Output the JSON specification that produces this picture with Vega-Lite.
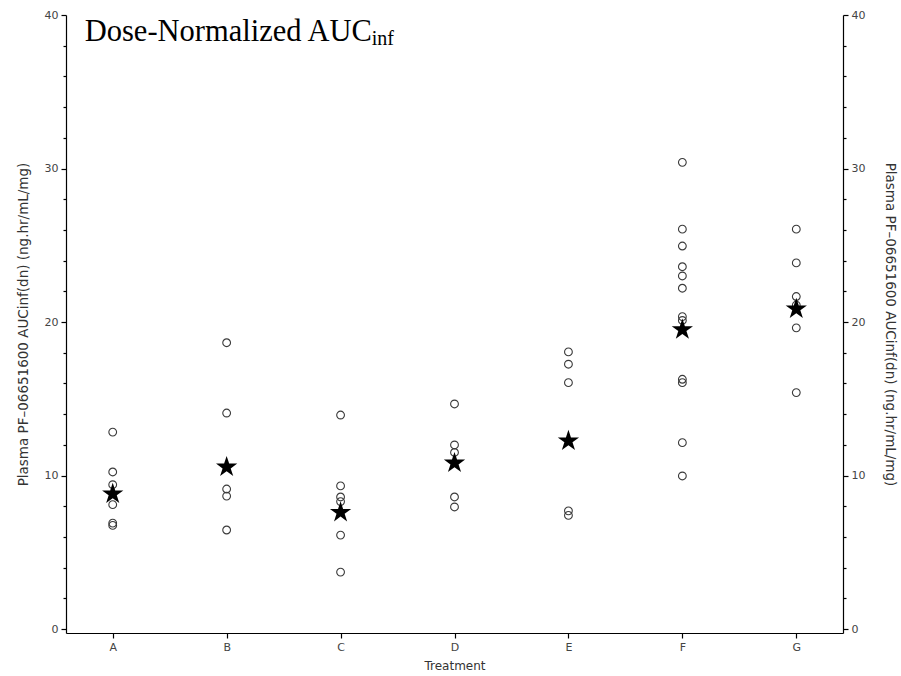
{
  "$schema": "https://vega.github.io/schema/vega-lite/v6.json",
  "width": 777,
  "height": 618,
  "autosize": {"type": "none"},
  "padding": {"left": 66, "top": 15, "right": 58, "bottom": 43},
  "background": "white",
  "config": {
    "view": {"stroke": null},
    "axis": {
      "grid": false,
      "domainColor": "#000000",
      "domainWidth": 1.2,
      "tickColor": "#000000",
      "tickWidth": 1.2,
      "labelFont": "DejaVu Sans",
      "labelFontSize": 11,
      "labelColor": "#444444",
      "titleFont": "DejaVu Sans",
      "titleFontSize": 13.5,
      "titleFontWeight": "normal",
      "titleColor": "#333333"
    }
  },
  "layer": [
    {
      "data": {"values": [
        {"Treatment": "A", "value": 12.83}, {"Treatment": "A", "value": 10.23}, {"Treatment": "A", "value": 9.4},
        {"Treatment": "A", "value": 8.1}, {"Treatment": "A", "value": 6.9}, {"Treatment": "A", "value": 6.75},
        {"Treatment": "B", "value": 18.65}, {"Treatment": "B", "value": 14.07}, {"Treatment": "B", "value": 9.12},
        {"Treatment": "B", "value": 8.66}, {"Treatment": "B", "value": 6.45},
        {"Treatment": "C", "value": 13.94}, {"Treatment": "C", "value": 9.32}, {"Treatment": "C", "value": 8.6},
        {"Treatment": "C", "value": 8.3}, {"Treatment": "C", "value": 6.12}, {"Treatment": "C", "value": 3.71},
        {"Treatment": "D", "value": 14.66}, {"Treatment": "D", "value": 11.99}, {"Treatment": "D", "value": 11.5},
        {"Treatment": "D", "value": 8.6}, {"Treatment": "D", "value": 7.95},
        {"Treatment": "E", "value": 18.05}, {"Treatment": "E", "value": 17.25}, {"Treatment": "E", "value": 16.05},
        {"Treatment": "E", "value": 7.7}, {"Treatment": "E", "value": 7.4},
        {"Treatment": "F", "value": 30.4}, {"Treatment": "F", "value": 26.05}, {"Treatment": "F", "value": 24.95},
        {"Treatment": "F", "value": 23.6}, {"Treatment": "F", "value": 23.0}, {"Treatment": "F", "value": 22.2},
        {"Treatment": "F", "value": 20.35}, {"Treatment": "F", "value": 20.1}, {"Treatment": "F", "value": 16.27},
        {"Treatment": "F", "value": 16.05}, {"Treatment": "F", "value": 12.14}, {"Treatment": "F", "value": 9.97},
        {"Treatment": "G", "value": 26.05}, {"Treatment": "G", "value": 23.85}, {"Treatment": "G", "value": 21.66},
        {"Treatment": "G", "value": 21.1}, {"Treatment": "G", "value": 19.62}, {"Treatment": "G", "value": 15.4}
      ]},
      "mark": {"type": "point", "shape": "circle", "filled": false, "stroke": "#3a3a3a", "strokeWidth": 1.1, "size": 60, "opacity": 1},
      "encoding": {
        "x": {
          "field": "Treatment", "type": "nominal",
          "scale": {"type": "point", "domain": ["A", "B", "C", "D", "E", "F", "G"], "padding": 0.41},
          "axis": {"orient": "bottom", "title": "Treatment", "titleFontSize": 12, "labelAngle": 0, "tickSize": 5, "labelPadding": 3, "titlePadding": 8}
        },
        "y": {
          "field": "value", "type": "quantitative",
          "scale": {"domain": [-0.26, 40], "nice": false, "zero": false},
          "axis": {
            "orient": "left",
            "title": "Plasma PF\u201306651600 AUCinf(dn) (ng.hr/mL/mg)",
            "values": [0, 2, 4, 6, 8, 10, 12, 14, 16, 18, 20, 22, 24, 26, 28, 30, 32, 34, 36, 38, 40],
            "labelExpr": "datum.value % 10 === 0 ? datum.label : ''",
            "tickSize": {"condition": {"test": "datum.value % 10 === 0", "value": 5}, "value": 3},
            "labelPadding": 3,
            "titlePadding": 14
          }
        }
      }
    },
    {
      "data": {"values": [
        {"Treatment": "A", "center": 8.8},
        {"Treatment": "B", "center": 10.55},
        {"Treatment": "C", "center": 7.6},
        {"Treatment": "D", "center": 10.81},
        {"Treatment": "E", "center": 12.25},
        {"Treatment": "F", "center": 19.5},
        {"Treatment": "G", "center": 20.85}
      ]},
      "mark": {
        "type": "point",
        "shape": "M0,-1L0.225,-0.309L0.951,-0.309L0.363,0.118L0.588,0.809L0,0.382L-0.588,0.809L-0.363,0.118L-0.951,-0.309L-0.225,-0.309Z",
        "filled": true, "color": "#000000", "opacity": 1, "size": 500
      },
      "encoding": {
        "x": {"field": "Treatment", "type": "nominal"},
        "y": {
          "field": "center", "type": "quantitative",
          "axis": {
            "orient": "right",
            "title": "Plasma PF\u201306651600 AUCinf(dn) (ng.hr/mL/mg)",
            "values": [0, 2, 4, 6, 8, 10, 12, 14, 16, 18, 20, 22, 24, 26, 28, 30, 32, 34, 36, 38, 40],
            "labelExpr": "datum.value % 10 === 0 ? datum.label : ''",
            "tickSize": {"condition": {"test": "datum.value % 10 === 0", "value": 5}, "value": 3},
            "labelPadding": 3,
            "titlePadding": 18
          }
        }
      }
    },
    {
      "data": {"values": [{"label": "Dose-Normalized AUC"}]},
      "mark": {"type": "text", "font": "Liberation Serif", "fontSize": 30.5, "align": "left", "baseline": "alphabetic", "color": "#000000", "dx": -28},
      "encoding": {
        "x": {"datum": "A", "type": "nominal"},
        "y": {"datum": 38.3, "type": "quantitative", "axis": null},
        "text": {"field": "label"}
      }
    },
    {
      "data": {"values": [{"label": "inf"}]},
      "mark": {"type": "text", "font": "Liberation Serif", "fontSize": 20, "align": "left", "baseline": "alphabetic", "color": "#000000", "dx": 259},
      "encoding": {
        "x": {"datum": "A", "type": "nominal"},
        "y": {"datum": 38.05, "type": "quantitative", "axis": null},
        "text": {"field": "label"}
      }
    }
  ],
  "resolve": {"axis": {"y": "independent"}}
}
